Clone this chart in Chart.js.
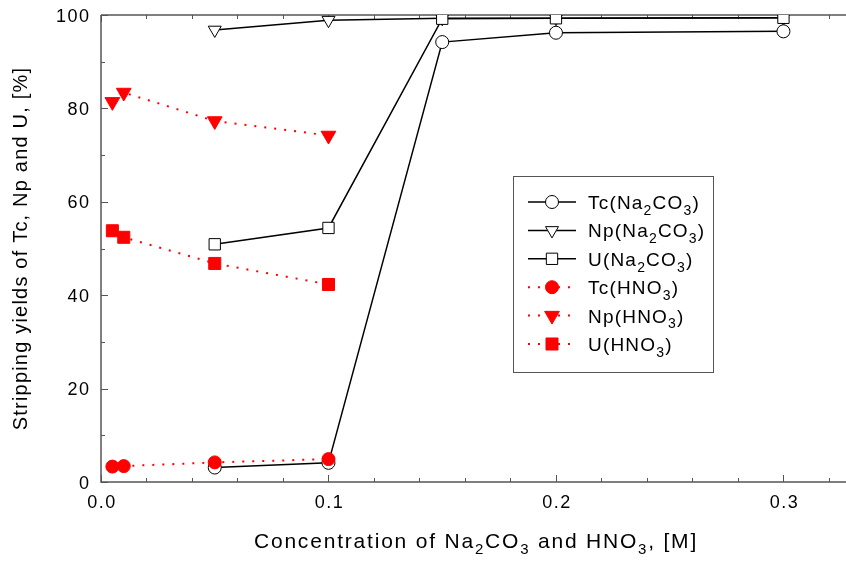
<!DOCTYPE html>
<html>
<head>
<meta charset="utf-8">
<script src="https://cdn.jsdelivr.net/npm/chart.js@4/dist/chart.umd.min.js"></script>
<style>
  body { margin: 0; background: #fff; }
  canvas { display: block; }
</style>
</head>
<body>
<canvas id="grafico" width="846" height="563"></canvas>
<script>
// concentrations [M]
var xNa = [0.05, 0.1, 0.15, 0.2, 0.3];
var xHno3 = [0.005, 0.01, 0.05, 0.1];

// stripping yields [%]
var tcNa = [3.1, 4.1, 94.2, 96.2, 96.5];
var npNa = [96.8, 98.9, 99.3, 99.3, 99.4];
var uNa = [50.9, 54.4, 99.2, 99.3, 99.4];
var tcHno3 = [3.3, 3.4, 4.2, 4.9];
var npHno3 = [81.4, 83.4, 77.3, 74.2];
var uHno3 = [53.8, 52.4, 46.8, 42.3];

// axis ticks
var xTickValues = [0, 0.1, 0.2, 0.3];
var xTickLabels = ['0.0', '0.1', '0.2', '0.3'];
var yTickValues = [0, 20, 40, 60, 80, 100];
var yTickLabels = ['0', '20', '40', '60', '80', '100'];

var legendLabels = ['Tc(Na_2CO_3)', 'Np(Na_2CO_3)', 'U(Na_2CO_3)', 'Tc(HNO_3)', 'Np(HNO_3)', 'U(HNO_3)'];
var xTitle = 'Concentration of Na_2CO_3 and HNO_3, [M]';
var yTitle = 'Stripping yields of Tc, Np and U, [%]';

var FONT = '"Liberation Sans", Arial, sans-serif';
var AXIS_COLOR = '#555';

function pts(xs, ys) {
    return xs.map(function (x, i) { return { x: x, y: ys[i] }; });
}

function naSet(label, ys, style, rad, order) {
    return {
        label: label, data: pts(xNa, ys),
        borderColor: '#000', borderWidth: 1.5,
        pointStyle: style, pointRadius: rad, pointHoverRadius: rad,
        pointRotation: style === 'triangle' ? 180 : 0,
        pointBackgroundColor: '#fff', pointBorderColor: '#000', pointBorderWidth: 1,
        tension: 0, order: order
    };
}

function hnoSet(label, ys, style, rad) {
    return {
        label: label, data: pts(xHno3, ys),
        borderColor: '#ff0000', borderWidth: 2, borderDash: [2, 8],
        pointStyle: style, pointRadius: rad, pointHoverRadius: rad,
        pointRotation: style === 'triangle' ? 180 : 0,
        pointBackgroundColor: '#ff0000', pointBorderColor: '#ff0000', pointBorderWidth: 1,
        tension: 0, order: 1
    };
}

// text with _N subscripts
function drawRich(ctx, text, x, y, size, align, spacing) {
    var parts = [];
    for (var i = 0; i < text.length; i++) {
        if (text[i] === '_') { parts.push({ t: text[i + 1], sub: true }); i++; }
        else {
            if (parts.length && !parts[parts.length - 1].sub) parts[parts.length - 1].t += text[i];
            else parts.push({ t: text[i], sub: false });
        }
    }
    var subSize = Math.round(size * 0.72);
    var total = 0;
    ctx.letterSpacing = spacing + 'px';
    parts.forEach(function (p) {
        ctx.font = (p.sub ? subSize : size) + 'px ' + FONT;
        p.w = ctx.measureText(p.t).width;
        total += p.w;
    });
    var cx = align === 'center' ? x - total / 2 : x;
    ctx.textAlign = 'left';
    ctx.textBaseline = 'alphabetic';
    parts.forEach(function (p) {
        ctx.font = (p.sub ? subSize : size) + 'px ' + FONT;
        ctx.fillText(p.t, cx, p.sub ? y + size * 0.3 : y);
        cx += p.w;
    });
}

var framePlugin = {
    id: 'frame',
    beforeDraw: function (chart) {
        chart.ctx.letterSpacing = '1.2px';
    },
    beforeDatasetsDraw: function (chart) {
        var ctx = chart.ctx, a = chart.chartArea;
        var xs = chart.scales.x, ys = chart.scales.y;
        ctx.save();
        ctx.strokeStyle = AXIS_COLOR;
        ctx.lineWidth = 1.5;
        ctx.beginPath();
        ctx.moveTo(a.left, a.top); ctx.lineTo(a.right, a.top);
        ctx.moveTo(a.left, a.top); ctx.lineTo(a.left, a.bottom);
        ctx.lineTo(a.right, a.bottom);
        ctx.stroke();
        ctx.lineWidth = 1;
        ctx.beginPath();
        for (var i = 0; i <= 16; i++) {
            var px = Math.round(xs.getPixelForValue(i * 0.02)) + 0.5;
            var len = i % 5 === 0 ? 7 : 4;
            ctx.moveTo(px, a.bottom); ctx.lineTo(px, a.bottom - len);
            ctx.moveTo(px, a.top); ctx.lineTo(px, a.top + len);
        }
        for (var j = 0; j <= 10; j++) {
            var py = Math.round(ys.getPixelForValue(j * 10)) + 0.5;
            var l2 = j % 2 === 0 ? 7 : 4;
            ctx.moveTo(a.left, py); ctx.lineTo(a.left + l2, py);
        }
        ctx.stroke();

        // tick labels
        ctx.fillStyle = '#000';
        ctx.font = '18px ' + FONT;
        ctx.letterSpacing = '1.5px';
        ctx.textBaseline = 'alphabetic';
        ctx.textAlign = 'center';
        xTickValues.forEach(function (v, k) {
            ctx.fillText(xTickLabels[k], xs.getPixelForValue(v) + 1, a.bottom + 26);
        });
        ctx.textAlign = 'right';
        yTickValues.forEach(function (v, k) {
            ctx.fillText(yTickLabels[k], a.left - 12 + 1.5, ys.getPixelForValue(v) + 6.5);
        });
        ctx.restore();
    },
    afterDraw: function (chart) {
        var ctx = chart.ctx;
        ctx.save();
        ctx.fillStyle = '#000';
        drawRich(ctx, xTitle, 476, 548, 21, 'center', 1.8);

        // legend box
        var bx = 513, by = 176, bw = 200, bh = 196;
        ctx.fillStyle = '#fff';
        ctx.fillRect(bx, by, bw, bh);
        ctx.strokeStyle = AXIS_COLOR;
        ctx.lineWidth = 1;
        ctx.strokeRect(bx + 0.5, by + 0.5, bw, bh);
        chart.data.datasets.forEach(function (ds, k) {
            var y = 202 + k * 28.4;
            ctx.save();
            ctx.strokeStyle = ds.borderColor;
            ctx.lineWidth = ds.borderWidth;
            ctx.setLineDash(ds.borderDash || []);
            ctx.beginPath();
            ctx.moveTo(528, y); ctx.lineTo(576, y);
            ctx.stroke();
            ctx.restore();
            ctx.save();
            ctx.fillStyle = ds.pointBackgroundColor;
            ctx.strokeStyle = ds.pointBorderColor;
            ctx.lineWidth = ds.pointBorderWidth;
            Chart.helpers.drawPoint(ctx, {
                pointStyle: ds.pointStyle, rotation: ds.pointRotation,
                radius: ds.pointRadius, borderWidth: ds.pointBorderWidth
            }, 552, y);
            ctx.restore();
            ctx.fillStyle = '#000';
            drawRich(ctx, legendLabels[k], 588, y + 7, 19, 'left', 1.2);
        });
        ctx.restore();
    }
};

var ctx = document.getElementById('grafico').getContext('2d');
var chart = new Chart(ctx, {
    type: 'line',
    data: {
        datasets: [
            naSet('Tc(Na2CO3)', tcNa, 'circle', 6.5, 2),
            naSet('Np(Na2CO3)', npNa, 'triangle', 7.5, 3),
            naSet('U(Na2CO3)', uNa, 'rect', 8, 2),
            hnoSet('Tc(HNO3)', tcHno3, 'circle', 6.5),
            hnoSet('Np(HNO3)', npHno3, 'triangle', 8.5),
            hnoSet('U(HNO3)', uHno3, 'rect', 8.5)
        ]
    },
    plugins: [framePlugin],
    options: {
        responsive: false,
        animation: false,
        layout: { autoPadding: false, padding: { top: 15, right: 0, left: 0, bottom: 0 } },
        plugins: { legend: { display: false }, tooltip: { enabled: false } },
        scales: {
            x: {
                type: 'linear', min: 0, max: 0.3275,
                border: { display: false },
                grid: { display: false },
                ticks: { display: false },
                afterFit: function (s) { s.height = 81; }
            },
            y: {
                min: 0, max: 100,
                border: { display: false },
                grid: { display: false },
                ticks: { display: false },
                title: {
                    display: true, text: yTitle, color: '#000',
                    font: { family: FONT, size: 20 }, padding: { top: 9, bottom: 0 }
                },
                afterFit: function (s) { s.width = 101; }
            }
        }
    }
});
</script>
</body>
</html>
